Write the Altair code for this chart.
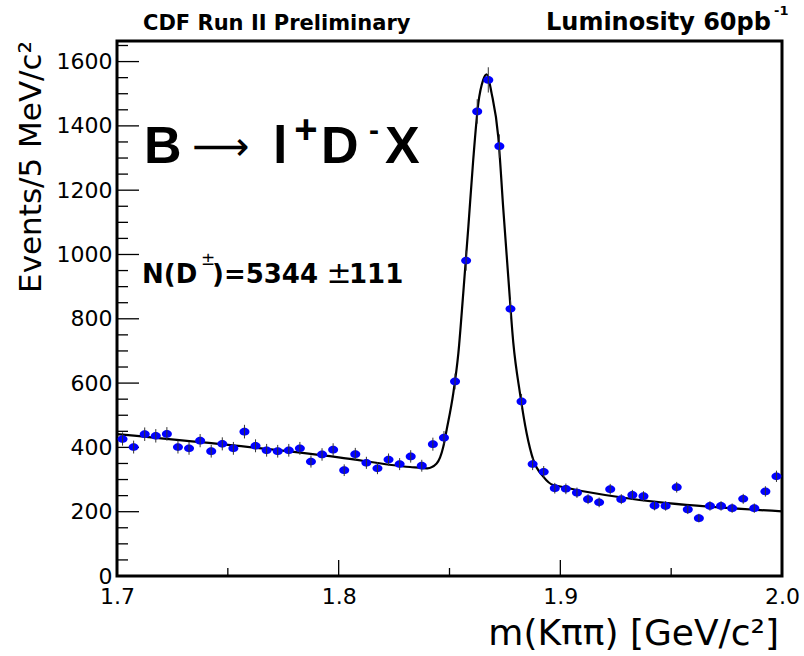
import altair as alt
import pandas as pd

# ---- data ----
counts = [426, 401, 441, 436, 442, 401, 397, 421, 388, 411,
          397, 449, 405, 391, 388, 391, 397, 356, 378, 393,
          329, 379, 352, 335, 362, 348, 372, 343, 410, 430,
          605, 981, 1445, 1543, 1337, 831, 543, 348, 324, 273,
          271, 259, 239, 229, 270, 239, 252, 248, 219, 218,
          276, 207, 180, 218, 218, 211, 240, 211, 263, 310]
bin_lo = 1.700
bin_width = 0.005
mass = [round(bin_lo + bin_width * (i + 0.5), 4) for i in range(len(counts))]

fit_mass = [1.7000, 1.8000, 1.8322, 1.8400, 1.8442, 1.8472, 1.8487, 1.8517,
            1.8540, 1.8562, 1.8585, 1.8607, 1.8630, 1.8652, 1.8668, 1.8690,
            1.8720, 1.8743, 1.8765, 1.8788, 1.8818, 1.8848, 1.8878, 1.8923,
            1.8968, 2.0000]
fit_counts = [441, 369, 339, 335, 350, 402, 454, 568,
              693, 879, 1086, 1294, 1470, 1543, 1560, 1501,
              1366, 1138, 931, 724, 568, 444, 361, 309,
              283, 201]

y_major = [0, 200, 400, 600, 800, 1000, 1200, 1400, 1600]
y_minor = [50, 100, 150, 250, 300, 350, 450, 500, 550, 650, 700, 750,
           850, 900, 950, 1050, 1100, 1150, 1250, 1300, 1350, 1450, 1500,
           1550, 1650]
x_major = [1.7, 1.8, 1.9, 2.0]
x_minor = [1.75, 1.85, 1.95]

W, H = 665, 535
xs = alt.Scale(domain=[1.7, 2.0], nice=False, zero=False)
ys = alt.Scale(domain=[0, 1664], nice=False, zero=False)

x_axis = alt.Axis(values=x_major, format=".1f", title=None, ticks=False, domain=False,
                  grid=False, labelFont="DejaVu Sans", labelFontSize=22, labelColor="black",
                  labelPadding=10, labelFlush=False, labelOverlap=False, labelBound=False)
y_axis = alt.Axis(values=y_major, format="d", title=None, ticks=False, domain=False,
                  grid=False, labelFont="DejaVu Sans", labelFontSize=22, labelColor="black",
                  labelPadding=5, labelFlush=False, labelOverlap=False, labelBound=False)

pts = pd.DataFrame({"m": mass, "n": counts})
fit = pd.DataFrame({"m": fit_mass, "n": fit_counts})

X = alt.X("m:Q", scale=xs, axis=x_axis)
Y = alt.Y("n:Q", scale=ys, axis=y_axis)

ellipse = "M -1 0 A 1 0.78 0 1 1 1 0 A 1 0.78 0 1 1 -1 0 Z"

points = alt.Chart(pts).mark_point(shape=ellipse, filled=True, fill="#0000ff",
                                   size=100, opacity=1, strokeWidth=0).encode(x=X, y=Y)

errors = alt.Chart(pts).transform_calculate(
    lo="datum.n - sqrt(datum.n)", hi="datum.n + sqrt(datum.n)"
).mark_rule(color="#333333", strokeWidth=1).encode(
    x=X, y=alt.Y("lo:Q", scale=ys, axis=y_axis), y2="hi:Q")

curve = alt.Chart(fit).mark_line(color="black", strokeWidth=2.2,
                                 interpolate="monotone").encode(x=X, y=Y)

def yticks(vals, length):
    return alt.Chart(pd.DataFrame({"v": vals})).mark_rule(
        color="black", strokeWidth=1.3).encode(
        y=alt.Y("v:Q", scale=ys, axis=y_axis), x=alt.value(0), x2=alt.value(length))

def xticks(vals, length):
    return alt.Chart(pd.DataFrame({"v": vals})).mark_rule(
        color="black", strokeWidth=1.3).encode(
        x=alt.X("v:Q", scale=xs, axis=x_axis), y=alt.value(H), y2=alt.value(H - length))

one = pd.DataFrame({"k": [0]})

def label(text, x, y, size, font="DejaVu Sans", weight="normal", align="left",
          baseline="alphabetic", angle=0):
    return alt.Chart(one).mark_text(text=text, font=font, fontSize=size, fontWeight=weight,
                                    align=align, baseline=baseline, angle=angle,
                                    color="black").encode(x=alt.value(x), y=alt.value(y))

texts = [
    label("CDF Run II Preliminary", 26, -11, 21, weight="bold"),
    label("Luminosity 60pb", 429, -11, 24, weight="bold"),
    label("-1", 657, -26, 13, weight="bold"),
    label("B", 27, 122, 52, font="Liberation Sans", weight="bold"),
    label("\u27f6", 104, 107, 40, align="center", baseline="middle"),
    label("l", 156, 122, 52, font="Liberation Sans", weight="bold"),
    label("+", 189, 102, 40, font="Liberation Sans", weight="bold", align="center"),
    label("D", 204, 122, 52, font="Liberation Sans", weight="bold"),
    label("-", 257, 99, 30, font="Liberation Sans", weight="bold", align="center"),
    label("X", 268, 122, 52, font="Liberation Sans", weight="bold"),
    label("N(D", 25, 242, 26, weight="bold"),
    label("\u00b1", 91, 224, 17, align="center"),
    label(")=5344", 95, 242, 26, weight="bold"),
    label("\u00b1", 222, 242, 30, align="center"),
    label("111", 232, 242, 26, weight="bold"),
    label("Events/5 MeV/c\u00b2", -76, 0, 31, align="right", angle=270),
    label("m(K\u03c0\u03c0) [GeV/c\u00b2]", 662, 604, 36, align="right"),
]

chart = alt.layer(
    yticks(y_major, 22), yticks(y_minor, 11), xticks(x_major, 16), xticks(x_minor, 8),
    curve, points, errors, *texts
).properties(
    width=W, height=H,
    autosize=alt.AutoSizeParams(type="none"),
    padding={"left": 117, "top": 41, "right": 22, "bottom": 80},
    background="white",
).configure_view(stroke="black", strokeWidth=3)

chart.save("out.html", embed_options={"renderer": "svg", "actions": False})
